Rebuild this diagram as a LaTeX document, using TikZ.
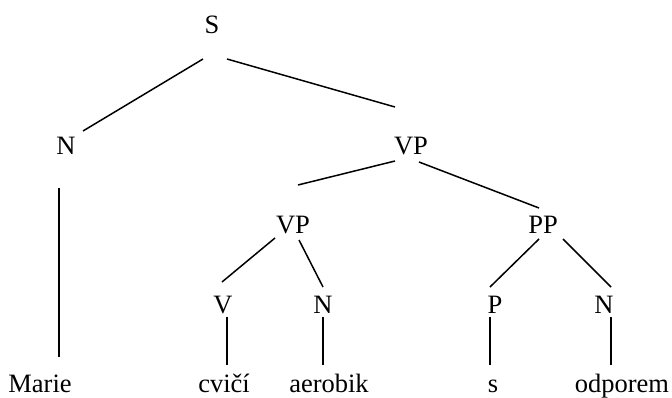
\documentclass[tikz,border=0pt]{standalone}
\usepackage{fontspec}
\setmainfont{Liberation Serif}
\begin{document}
\begin{tikzpicture}[x=1pt,y=1pt,
  lab/.style={anchor=base,inner sep=0pt,font=\fontsize{26.5}{30}\selectfont},
  edge/.style={line width=1.5pt}]
\useasboundingbox (0,0) rectangle (672,397);
% nodes (base points)
\node[lab] (S)   at (212,363) {S};
\node[lab] (N1)  at (66,243)  {N};
\node[lab] (VP1) at (411,243) {VP};
\node[lab] (VP2) at (293,164) {VP};
\node[lab] (PP)  at (543,164) {PP};
\node[lab] (V)   at (223,84)  {V};
\node[lab] (N2)  at (323,84)  {N};
\node[lab] (P)   at (495,84)  {P};
\node[lab] (N3)  at (604,84)  {N};
\node[lab] (w1)  at (40,5)    {Marie};
\node[lab] (w2)  at (224,5)   {cvičí};
\node[lab] (w3)  at (329,5)   {aerobik};
\node[lab] (w4)  at (493,5)   {s};
\node[lab] (w5)  at (622,5)   {odporem};
% connectors
\draw[edge] ([shift={(-9,-25)}]S.base) -- ([shift={(17,23)}]N1.base);
\draw[edge] ([shift={(15,-25)}]S.base) -- ([shift={(-16,47)}]VP1.base);
\draw[edge] ([shift={(-7,-34)}]N1.base) -- ([shift={(19,35)}]w1.base);
\draw[edge] ([shift={(-16,-7)}]VP1.base) -- ([shift={(5,48)}]VP2.base);
\draw[edge] ([shift={(8,-8)}]VP1.base) -- ([shift={(-4,25)}]PP.base);
\draw[edge] ([shift={(-18,-5)}]VP2.base) -- ([shift={(-1,31)}]V.base);
\draw[edge] ([shift={(6,-7)}]VP2.base) -- ([shift={(0,26)}]N2.base);
\draw[edge] ([shift={(4,-4)}]V.base) -- ([shift={(3,27)}]w2.base);
\draw[edge] ([shift={(0,-4)}]N2.base) -- ([shift={(-6,27)}]w3.base);
\draw[edge] ([shift={(-4,-6)}]PP.base) -- ([shift={(-5,26)}]P.base);
\draw[edge] ([shift={(20,-6)}]PP.base) -- ([shift={(7,26)}]N3.base);
\draw[edge] ([shift={(-5,-4)}]P.base) -- ([shift={(-3,27)}]w4.base);
\draw[edge] ([shift={(7,-4)}]N3.base) -- ([shift={(-11,27)}]w5.base);
\end{tikzpicture}
\end{document}
